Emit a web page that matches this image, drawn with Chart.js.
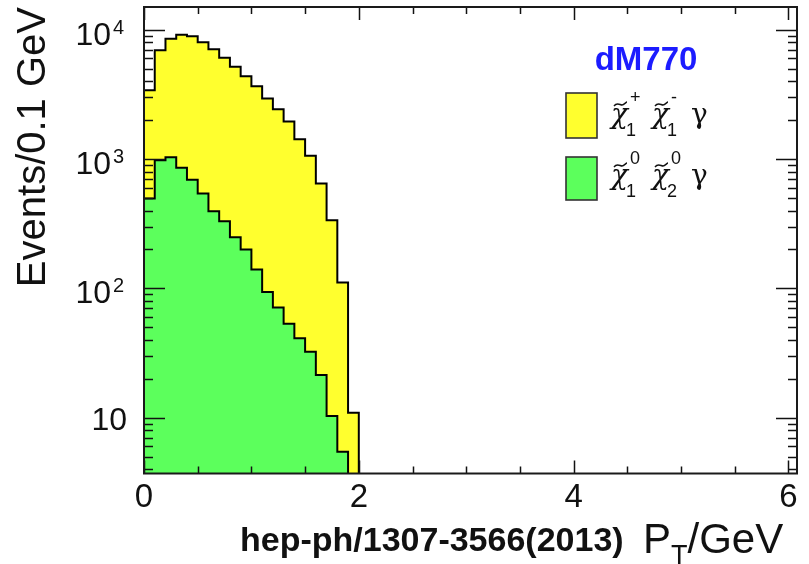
<!DOCTYPE html>
<html>
<head>
<meta charset="utf-8">
<script src="https://cdn.jsdelivr.net/npm/chart.js@4.4.0/dist/chart.umd.min.js"></script>
<style>
    html, body { margin: 0; padding: 0; background: #fff; }
    canvas { display: block; }
</style>
</head>
<body>
<canvas id="ptChart" width="809" height="564"></canvas>
<script>
// photon P_T spectrum, events per 0.1 GeV bin (lower bin edges in GeV)
const binLowEdges = [0.0, 0.1, 0.2, 0.3, 0.4, 0.5, 0.6, 0.7, 0.8, 0.9,
                     1.0, 1.1, 1.2, 1.3, 1.4, 1.5, 1.6, 1.7, 1.8, 1.9];
const binWidth = 0.1;
const charginoEvents = [3410, 6950, 8520, 9150, 8910, 8000, 7060, 6080, 5170, 4370,
                        3660, 2940, 2430, 1950, 1425, 1063, 648, 337, 111, 10.9];
const neutralinoEvents = [496, 980, 1034, 858, 693, 542, 394, 331, 249, 200,
                          140, 93.6, 71, 53.2, 41.1, 32.4, 21.4, 10.3, 5.46];
const xTickLabels = [0, 2, 4, 6];
const yDecades = [10, 100, 1000, 10000];
const seriesColors = ['#ffff2e', '#5cff5c'];

const FONT = '"Liberation Sans", Arial, Helvetica, sans-serif';
const yFloor = 1; // below the axis minimum, closes the outline under the plot

function histPoints(values) {
    let pts = [];
    for (let i = 0; i < values.length; i++) {
        pts.push({ x: binLowEdges[i], y: values[i] });
    }
    let end = binLowEdges[values.length - 1] + binWidth;
    pts.push({ x: end, y: values[values.length - 1] });
    pts.push({ x: end, y: yFloor });
    return pts;
}

// chi with tilde, plus super/subscript
function drawChi(ctx, x, base, sup, sub) {
    ctx.font = 'italic 28px "DejaVu Serif", serif';
    ctx.textAlign = 'left';
    ctx.textBaseline = 'alphabetic';
    ctx.fillText('χ', x, base);
    let w = ctx.measureText('χ').width;
    // tilde
    ctx.beginPath();
    ctx.lineWidth = 1.4;
    let tx = x + 3, ty = base - 17;
    ctx.moveTo(tx, ty);
    ctx.bezierCurveTo(tx + 3, ty - 4, tx + 6, ty - 1, tx + 8, ty - 1);
    ctx.bezierCurveTo(tx + 10, ty - 1, tx + 12, ty - 4, tx + 13, ty - 4);
    ctx.stroke();
    ctx.font = '18px ' + FONT;
    ctx.fillText(sup, x + w + 2, base - 20);
    ctx.fillText(sub, x + w - 2, base + 13);
    return w;
}

const histFrame = {
    id: 'histFrame',
    afterDatasetsDraw(chart) {
        const { ctx, chartArea: a, scales: { x, y } } = chart;
        ctx.save();
        ctx.strokeStyle = '#111';
        ctx.lineWidth = 1.5;
        ctx.beginPath();
        // log ticks, pointing inwards on both sides
        for (let d = 1; d <= 10000; d *= 10) {
            for (let m = 1; m <= 9; m++) {
                let v = m * d;
                if (v < y.min || v > y.max) continue;
                let py = Math.round(y.getPixelForValue(v)) + 0.5;
                let len = m === 1 ? 21 : 9;
                ctx.moveTo(a.left, py); ctx.lineTo(a.left + len, py);
                ctx.moveTo(a.right, py); ctx.lineTo(a.right - len, py);
            }
        }
        for (let t = 0; t <= x.max + 1e-6; t += 0.5) {
            let px = Math.round(x.getPixelForValue(t)) + 0.5;
            let len = (t % 2 === 0) ? 13 : 7;
            ctx.moveTo(px, a.bottom); ctx.lineTo(px, a.bottom - len);
            ctx.moveTo(px, a.top); ctx.lineTo(px, a.top + len);
        }
        ctx.stroke();
        ctx.lineWidth = 2;
        ctx.strokeStyle = '#1a1a1a';
        ctx.strokeRect(a.left, a.top, a.right - a.left, a.bottom - a.top);
        ctx.restore();
    },
    afterDraw(chart) {
        const { ctx, scales: { y } } = chart;
        ctx.save();
        ctx.fillStyle = '#111';
        ctx.strokeStyle = '#111';

        // decade labels 10, 10^2, ...
        yDecades.forEach(v => {
            let py = y.getPixelForValue(v);
            let n = Math.round(Math.log10(v));
            ctx.textBaseline = 'alphabetic';
            if (n === 1) {
                ctx.font = '32px ' + FONT;
                ctx.textAlign = 'right';
                ctx.fillText('10', 127, py + 12);
            } else {
                ctx.font = '32px ' + FONT;
                ctx.textAlign = 'right';
                ctx.fillText('10', 111, py + 15);
                ctx.font = '20px ' + FONT;
                ctx.textAlign = 'left';
                ctx.fillText(String(n), 113, py + 4);
            }
        });

        // axis title with subscript
        ctx.textAlign = 'left';
        let ax = 643;
        ctx.font = '42px ' + FONT;
        ctx.fillText('P', ax, 553);
        ax += ctx.measureText('P').width;
        ctx.font = '27px ' + FONT;
        ctx.fillText('T', ax, 564);
        ax += ctx.measureText('T').width;
        ctx.font = '42px ' + FONT;
        ctx.fillText('/GeV', ax, 553);

        ctx.font = 'bold 34px ' + FONT;
        ctx.fillText('hep-ph/1307-3566(2013)', 240, 551);

        // legend
        ctx.font = 'bold 33px ' + FONT;
        ctx.textAlign = 'center';
        ctx.fillStyle = '#1c1cff';
        ctx.fillText('dM770', 646, 70);

        ctx.lineWidth = 1.6;
        ctx.strokeStyle = '#333';
        ctx.fillStyle = seriesColors[0];
        ctx.fillRect(566, 93, 31, 45);
        ctx.strokeRect(566, 93, 31, 45);
        ctx.fillStyle = seriesColors[1];
        ctx.fillRect(566, 157, 31, 43);
        ctx.strokeRect(566, 157, 31, 43);

        ctx.fillStyle = '#111';
        ctx.strokeStyle = '#111';
        drawChi(ctx, 611, 123, '+', '1');
        drawChi(ctx, 652, 123, '-', '1');
        ctx.font = '28px "DejaVu Serif", serif';
        ctx.textAlign = 'left';
        ctx.fillText('γ', 691, 123);

        drawChi(ctx, 611, 184, '0', '1');
        drawChi(ctx, 652, 184, '0', '2');
        ctx.font = '28px "DejaVu Serif", serif';
        ctx.fillText('γ', 691, 184);
        ctx.restore();
    }
};

new Chart(document.getElementById('ptChart'), {
    type: 'line',
    data: {
        datasets: [{
            label: 'neutralino',
            data: histPoints(neutralinoEvents),
            backgroundColor: seriesColors[1],
            borderColor: '#000',
            fill: 'start',
            order: 0
        }, {
            label: 'chargino',
            data: histPoints(charginoEvents),
            backgroundColor: seriesColors[0],
            borderColor: '#000',
            fill: 'start',
            order: 1
        }]
    },
    options: {
        responsive: false,
        animation: false,
        devicePixelRatio: 1,
        layout: { padding: { top: 7, right: 12, bottom: 0, left: 0 } },
        elements: {
            line: { stepped: true, borderWidth: 2, tension: 0 },
            point: { radius: 0 }
        },
        plugins: { legend: { display: false }, tooltip: { enabled: false } },
        scales: {
            x: {
                type: 'linear',
                min: 0,
                max: 6.08,
                grid: { display: false, drawTicks: false },
                border: { display: false },
                afterBuildTicks: function (scale) {
                    scale.ticks = xTickLabels.map(v => ({ value: v }));
                },
                afterFit: function (scale) { scale.height = 90.5; },
                ticks: { font: { family: FONT, size: 33 }, color: '#111', padding: 5, maxRotation: 0 }
            },
            y: {
                type: 'logarithmic',
                min: 3.7,
                max: 15000,
                grid: { display: false, drawTicks: false },
                border: { display: false },
                ticks: { display: false },
                afterFit: function (scale) { scale.width = 144; },
                title: {
                    display: true,
                    text: 'Events/0.1 GeV',
                    align: 'end',
                    color: '#111',
                    font: { family: FONT, size: 40 },
                    padding: { top: 10, bottom: 0 }
                }
            }
        }
    },
    plugins: [histFrame]
});
</script>
</body>
</html>
